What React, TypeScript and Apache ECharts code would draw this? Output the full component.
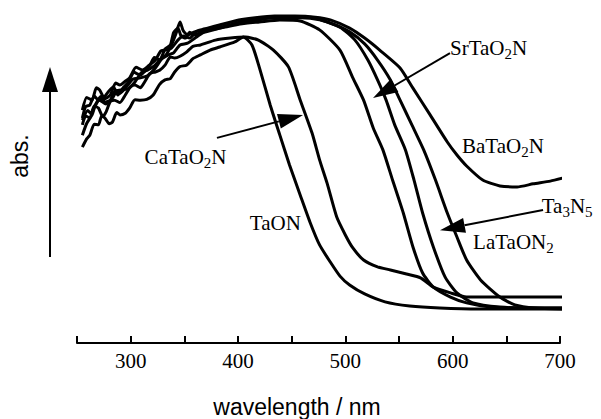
import React, { useEffect, useRef } from "react";
import * as echarts from "echarts";

// wavelength axis (nm)
const xMin = 250;
const xMax = 700;
const xStep = 50;
const xLabelEvery = 100;

// absorbance (arbitrary units) vs wavelength (nm)
const taON: number[][] = [
  [255, 57.1], [259, 59.5], [262, 60.6], [266, 63.8], [270, 63.6], [273, 66.2], [276, 65.6], [280, 63.9],
  [283, 64.4], [287, 67.2], [290, 66.5], [295, 67.0], [299, 68.5], [304, 70.9], [309, 70.8], [315, 71.0],
  [321, 72.3], [327, 75.4], [332, 76.7], [337, 77.1], [341, 79.0], [346, 80.6], [352, 81.0], [358, 82.9],
  [365, 84.0], [374, 85.4], [383, 86.3], [397, 87.8],
  [405, 89.2], [413, 86.9], [420, 80.2], [430, 69.4], [439, 60.6], [448, 51.9], [458, 43.1], [467, 35.3],
  [476, 28.6], [486, 23.6], [495, 19.5], [504, 16.9], [518, 14.3], [537, 12.0], [560, 10.8], [588, 10.2],
  [625, 9.9], [663, 9.9], [703, 9.9],
];
const caTaO2N: number[][] = [
  [255, 63.6], [258, 66.2], [262, 65.6], [266, 69.1], [270, 68.5], [274, 66.0], [277, 67.3], [281, 70.4],
  [285, 70.8], [290, 70.1], [295, 72.3], [300, 74.8], [304, 75.2], [309, 74.4], [313, 76.1], [318, 78.6],
  [323, 79.0], [327, 79.5], [332, 81.0], [337, 83.4], [341, 83.1], [346, 83.6], [352, 84.8], [358, 86.5],
  [365, 86.9], [379, 88.3], [393, 88.9], [407, 89.2],
  [419, 88.3], [433, 85.4], [447, 80.5], [458, 70.8], [469, 61.2], [476, 53.4], [483, 46.6], [492, 36.7],
  [500, 31.5], [507, 27.7], [517, 24.2], [530, 22.2], [542, 21.3], [557, 20.1], [570, 19.0], [582, 16.3],
  [598, 14.6], [613, 13.4], [635, 13.4], [663, 13.4], [703, 13.4],
];
const srTaO2N: number[][] = [
  [255, 65.6], [258, 68.9], [262, 69.4], [266, 72.0], [270, 70.8], [275, 71.5], [279, 73.2], [284, 74.6],
  [288, 72.3], [293, 74.4], [298, 76.1], [303, 78.9], [309, 78.1], [313, 79.2], [318, 81.0], [322, 83.2],
  [327, 82.5], [332, 85.7], [337, 86.9], [340, 90.5], [344, 91.8], [347, 89.5], [351, 88.9], [355, 90.6],
  [360, 89.8], [367, 91.0], [374, 91.3], [388, 92.1], [402, 93.0],
  [420, 93.6], [439, 94.2], [458, 93.9], [476, 91.3], [495, 85.4], [507, 77.3], [517, 70.8], [526, 62.7],
  [535, 56.3], [544, 47.5], [554, 37.9], [563, 28.0], [572, 20.4], [582, 16.3], [598, 13.4], [613, 11.7],
  [635, 10.5], [663, 10.2], [703, 10.2],
];
const ta3N5: number[][] = [
  [255, 67.9], [259, 71.6], [264, 70.8], [268, 74.4], [271, 73.8], [276, 71.2], [281, 72.3], [286, 75.8],
  [290, 75.2], [295, 76.3], [299, 77.3], [305, 80.4], [311, 79.6], [317, 80.9], [323, 82.5], [328, 85.1],
  [332, 85.4], [338, 86.0], [344, 88.3], [349, 89.5], [355, 88.9], [362, 90.9], [369, 90.7], [383, 91.8],
  [402, 93.6], [420, 94.5], [439, 94.8],
  [458, 94.8], [476, 94.2], [495, 92.1], [509, 88.3], [521, 82.5], [530, 76.7], [538, 70.8], [546, 63.6],
  [556, 56.3], [564, 47.5], [572, 37.9], [582, 28.0], [593, 19.2], [604, 14.6], [619, 11.7], [644, 10.5],
  [672, 10.2], [703, 10.2],
];
const laTaON2: number[][] = [
  [255, 65.0], [260, 67.8], [263, 66.9], [267, 69.4], [272, 71.9], [276, 70.2], [281, 70.8], [286, 73.7],
  [290, 72.8], [295, 74.3], [302, 76.9], [309, 77.3], [316, 78.0], [323, 80.2], [329, 82.8], [335, 84.0],
  [340, 84.6], [346, 86.9], [353, 87.4], [360, 88.9], [367, 90.4], [374, 91.3], [393, 92.7],
  [411, 93.6], [430, 94.8], [448, 95.0], [467, 95.0], [486, 93.3],
  [504, 90.7], [518, 87.2], [530, 82.5], [542, 76.7], [551, 70.8], [562, 63.6], [573, 56.3], [584, 47.5],
  [595, 37.9], [604, 30.9], [613, 24.2], [626, 18.4], [644, 13.4], [658, 11.1], [677, 10.2], [703, 9.9],
];
const baTaO2N: number[][] = [
  [255, 60.6], [259, 64.0], [264, 66.5], [267, 69.2], [271, 70.8], [277, 69.7], [283, 71.4], [287, 73.5],
  [292, 73.8], [298, 74.2], [304, 76.1], [310, 78.8], [316, 79.6], [322, 80.8], [327, 82.5], [333, 84.0],
  [338, 86.9], [342, 90.0], [346, 93.6], [349, 91.0], [353, 89.8], [359, 90.6], [365, 91.3], [379, 92.4],
  [397, 93.9], [416, 94.8], [434, 95.3],
  [453, 95.3], [472, 95.0], [486, 94.2], [504, 91.8], [518, 88.9], [532, 85.4], [551, 80.2], [563, 74.3],
  [579, 66.5], [595, 58.6], [604, 54.8], [613, 51.6], [628, 47.5], [644, 45.8], [660, 45.5], [675, 46.4],
  [691, 47.2], [703, 48.1],
];

const seriesNames = ["TaON", "CaTaO2N", "SrTaO2N", "Ta3N5", "LaTaON2", "BaTaO2N"];
const seriesData = [taON, caTaO2N, srTaO2N, ta3N5, laTaON2, baTaO2N];

// annotation texts (rich text for subscripts) anchored in data coordinates
const labelTexts = [
  "{n|CaTaO}{s|2}{n|N}",
  "{n|TaON}",
  "{n|SrTaO}{s|2}{n|N}",
  "{n|BaTaO}{s|2}{n|N}",
  "{n|Ta}{s|3}{n|N}{s|5}",
  "{n|LaTaON}{s|2}",
];
const labelAnchors = [
  [313, 54.2],
  [411, 35.0],
  [597.5, 86.0],
  [608.7, 57.4],
  [683, 39.9],
  [619, 29.4],
];
const arrowFrom = [
  [380.4, 59.8],
  [597.5, 84.5],
  [684.2, 38.8],
];
const arrowTo = [
  [460.6, 66.5],
  [525.8, 71.4],
  [588.2, 32.9],
];

export default function App() {
  const ref = useRef<HTMLDivElement>(null);
  useEffect(() => {
    if (!ref.current) return;
    const chart = echarts.init(ref.current, null, { renderer: "svg" });
    chart.setOption({
      animation: false,
      grid: { left: 77, right: 41, top: 0, bottom: 76 },
      xAxis: {
        type: "value",
        min: xMin,
        max: xMax,
        interval: xStep,
        axisLine: { lineStyle: { color: "#000", width: 2 } },
        axisTick: { inside: true, length: 7, lineStyle: { color: "#000", width: 2 } },
        axisLabel: {
          formatter: (v: number) => (v % xLabelEvery === 0 ? String(v) : ""),
          color: "#000",
          fontFamily: "Liberation Serif",
          fontSize: 21,
          margin: 7,
          showMinLabel: true,
          showMaxLabel: true,
        },
        splitLine: { show: false },
      },
      yAxis: { type: "value", min: 0, max: 100, show: false },
      series: seriesData.map((d, i) => ({
        type: "line",
        name: seriesNames[i],
        data: d,
        showSymbol: false,
        smooth: 0.2,
        clip: false,
        silent: true,
        lineStyle: { color: "#000", width: 3 },
      })),
    });

    const toPx = (p: number[]) => chart.convertToPixel({ gridIndex: 0 }, p) as number[];
    const rich = {
      n: { fontFamily: "Liberation Serif", fontSize: 21, color: "#000" },
      s: { fontFamily: "Liberation Serif", fontSize: 15, color: "#000", padding: [12, 0, 0, 0] },
    };
    const elements: any[] = [];
    labelTexts.forEach((t, i) => {
      const [x, y] = toPx(labelAnchors[i]);
      elements.push({
        type: "text",
        x,
        y,
        style: { text: t, rich, align: "left", verticalAlign: "middle", fill: "#000" },
      });
    });
    arrowFrom.forEach((f, i) => {
      const [x1, y1] = toPx(f);
      const [x2, y2] = toPx(arrowTo[i]);
      const dx = x2 - x1;
      const dy = y2 - y1;
      const len = Math.sqrt(dx * dx + dy * dy);
      const ux = dx / len;
      const uy = dy / len;
      const hl = 25;
      const hw = 7.5;
      const bx = x2 - ux * hl;
      const by = y2 - uy * hl;
      elements.push({
        type: "line",
        shape: { x1, y1, x2: bx, y2: by },
        style: { stroke: "#000", lineWidth: 2 },
      });
      elements.push({
        type: "polygon",
        shape: {
          points: [
            [x2, y2],
            [bx - uy * hw, by + ux * hw],
            [bx + uy * hw, by - ux * hw],
          ],
        },
        style: { fill: "#000" },
      });
    });
    // vertical "abs." arrow
    elements.push({ type: "line", shape: { x1: 50, y1: 257, x2: 50, y2: 88 }, style: { stroke: "#000", lineWidth: 2 } });
    elements.push({ type: "polygon", shape: { points: [[50, 67], [42, 92], [58, 92]] }, style: { fill: "#000" } });
    elements.push({
      type: "text",
      x: 20,
      y: 156,
      rotation: Math.PI / 2,
      style: { text: "abs.", fontFamily: "Liberation Sans", fontSize: 23, fill: "#000", align: "center", verticalAlign: "middle" },
    });
    elements.push({
      type: "text",
      x: 297,
      y: 407,
      style: { text: "wavelength / nm", fontFamily: "Liberation Sans", fontSize: 23, fill: "#000", align: "center", verticalAlign: "middle" },
    });
    chart.setOption({ graphic: elements });
    return () => chart.dispose();
  }, []);
  return <div ref={ref} style={{ position: "absolute", left: 0, top: 0, width: 601, height: 419 }} />;
}
